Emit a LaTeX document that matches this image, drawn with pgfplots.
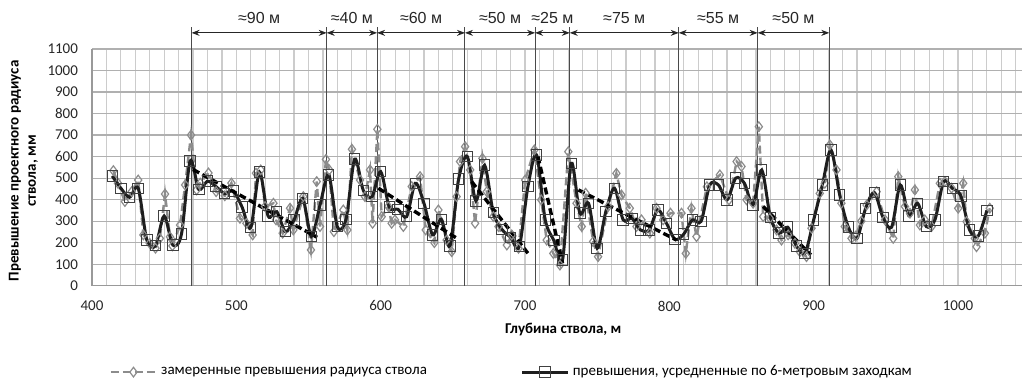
\documentclass[border=0pt]{standalone}
\usepackage{fontspec}
\setmainfont{Carlito}
\newfontfamily\arialf{Liberation Sans}
\usepackage{pgfplots}
\pgfplotsset{compat=1.18}
\usetikzlibrary{arrows.meta}
\definecolor{measgray}{HTML}{8C8C8C}
\definecolor{avgblack}{HTML}{1E1E1E}
\definecolor{gridv}{HTML}{CCCCCC}
\definecolor{gridh}{HTML}{B0B0B0}
\definecolor{bline}{HTML}{4A4A4A}
\begin{document}
\begin{tikzpicture}
\begin{axis}[
  scale only axis, width=464.75pt, height=118.35pt,
  xmin=400, xmax=1044, ymin=0, ymax=1100,
  xtick={400,500,...,1000}, minor xtick={410,420,...,1040},
  ytick={0,100,...,1100},
  xmajorgrids, xminorgrids, ymajorgrids,
  major x grid style={gridv, line width=0.6pt},
  minor x grid style={gridv, line width=0.6pt},
  major y grid style={gridh, line width=0.6pt},
  axis lines=left, axis line style={-, draw=gray!80, line width=0.6pt},
  major tick length=0pt, minor tick length=0pt,
  tick label style={font=\fontsize{7.5}{9}\selectfont, text=black!85},
  /pgf/number format/assume math mode=true,
  /pgf/number format/1000 sep={},
  xticklabel style={yshift=-4pt},
  yticklabel style={xshift=-3.5pt},
  xlabel={Глубина ствола, м},
  ylabel={Превышение проектного радиуса\\ствола, мм},
  xlabel style={at={(axis description cs:0.507,-0.183)}, anchor=center, font=\bfseries\fontsize{7.5}{9}\selectfont},
  ylabel style={at={(axis description cs:-0.0737,0.485)}, anchor=center, align=center, font=\bfseries\fontsize{7.5}{8.6}\selectfont},
  clip=false,
  legend columns=2,
  legend cell align=left,
  legend style={draw=none, fill=none, at={(axis description cs:0.4527,-0.365)}, anchor=center,
    font=\fontsize{7.5}{9}\selectfont, inner sep=0pt,
    /tikz/every even column/.append style={column sep=45pt}},
  legend image code/.code={\draw[mark repeat=2,mark phase=2,#1] plot coordinates {(0pt,0pt) (11.25pt,0pt) (22.5pt,0pt)};},
]
% boundary lines and arrows
\foreach \b in {469,562.6,597.5,658.4,707,731,806.5,861.2,910.8}{
  \edef\tmp{\noexpand\draw[bline, line width=0.5pt] (axis cs:\b,0) -- (axis cs:\b,1203);}\tmp
}
\foreach \a/\c/\t in {469/562.6/90,562.6/597.5/40,597.5/658.4/60,658.4/707/50,707/731/25,731/806.5/75,806.5/861.2/55,861.2/910.8/50}{
  \edef\tmp{\noexpand\draw[black!85, line width=0.5pt, {Stealth[length=4pt,width=3pt]}-{Stealth[length=4pt,width=3pt]}] (axis cs:\a,1175) -- (axis cs:\c,1175);}\tmp
  \pgfmathsetmacro{\m}{(\a+\c)/2}
  \edef\tmp{\noexpand\node[font=\noexpand\arialf\noexpand\fontsize{8}{9}\noexpand\selectfont, text=black!85] at (axis cs:\m,1242) {≈\t\noexpand\ м};}\tmp
}
% measured
\addplot[measgray, line width=1.2pt, dash pattern=on 4pt off 2pt,
  mark=diamond, mark size=2.4pt, mark options={solid, draw=measgray, fill=none, line width=0.6pt}]
coordinates {
(414.8,535) (418,476) (422.8,391) (427.5,437) (432,491) (435.6,236) (440,197) (444,174) (447,220) (450.6,426)
(454,227) (455.7,185) (461,282) (464.5,468) (468.6,700) (472.5,445) (475,477) (480.7,524) (486,437) (492,418)
(496.6,477) (502.5,313) (507,290) (511.3,236) (513.6,523) (516.9,538) (519.9,368) (525.7,383) (527.5,306) (532.1,244)
(537.2,360) (539.5,259) (546.4,414) (551.7,166) (555.7,484) (558,275) (562.1,587) (564.4,538) (567.6,251) (574.1,352)
(576.9,259) (580.1,634) (585.7,491) (589.1,414) (592.6,538) (594.4,290) (597.7,727) (600.7,321) (605.3,368) (607.6,290)
(609.9,306) (615.7,275) (621.5,461) (627.3,507) (631.2,259) (637.2,200) (640,352) (645.7,212) (649.2,158) (652.6,414)
(655,577) (658.5,646) (662,538) (665.4,290) (670.5,592) (673.5,437) (678.1,321) (681.6,275) (687.4,189) (690.8,236)
(695.5,174) (700.1,491) (706.5,631) (711.2,399) (715,212) (719.6,150) (724.2,96) (730,623) (735.7,383) (739.3,275)
(742,430) (747.2,205) (750.6,135) (757.6,368) (763.3,522) (766.8,422) (772.6,360) (777.2,275) (780.7,306) (786.5,244)
(791.1,360) (795.7,306) (800.8,337) (808.4,337) (811.4,150) (815.3,360) (818.8,228) (826,460) (835,515) (841.3,399)
(846.6,577) (850,554) (853.5,399) (858,383) (862,739) (865,321) (869.6,313) (874.3,259) (877.7,212) (882.3,236)
(887,197) (890.4,158) (895,135) (898.5,267) (904.2,429) (907.7,476) (911.2,654) (915.8,538) (919.2,383) (921.5,275)
(926.2,220) (929,230) (933,300) (936.7,375) (943.6,437) (949.4,306) (955.1,220) (958.6,507) (963.2,368) (966.7,337)
(970.1,445) (973.6,282) (977,306) (981.7,275) (987.4,476) (990.9,484) (995.5,453) (1000.1,360) (1003.6,476) (1005.9,298)
(1011.6,220) (1012.8,181) (1018.6,244) (1022,360)
};
\addlegendentry{замеренные превышения радиуса ствола}
% averaged
\addplot[avgblack, line width=1.5pt, smooth, tension=0.5,
  mark=square, mark size=2.6pt, mark options={draw=black!75, fill=none, line width=0.5pt}]
coordinates {
(414,510) (420,453) (426,411) (432,453) (438,212) (444,186) (450,324) (456,189) (462,240) (468,580)
(474,448) (480,486) (486,460) (492,428) (498,440) (504,365) (510,270) (516,528) (522,324) (528,344)
(534,251) (540,306) (546,406) (552,228) (558,375) (564,515) (570,274) (576,309) (582,588) (588,442)
(594,414) (600,530) (606,365) (612,355) (618,321) (624,476) (630,383) (636,236) (642,309) (648,185)
(654,495) (660,600) (666,394) (672,560) (678,340) (684,262) (690,225) (696,181) (702,460) (708,608)
(714,306) (720,210) (726,120) (732,569) (738,337) (744,383) (750,174) (756,345) (762,453) (768,306)
(774,313) (780,259) (786,259) (792,352) (798,290) (804,215) (810,240) (816,306) (822,299) (828,468)
(834,468) (840,399) (846,500) (852,476) (858,375) (864,538) (870,318) (876,244) (882,272) (888,185)
(894,151) (900,306) (906,468) (912,631) (918,422) (924,272) (930,220) (936,360) (942,433) (948,318)
(954,272) (960,468) (966,324) (972,383) (978,275) (984,306) (990,484) (996,453) (1002,417) (1008,259)
(1014,231) (1020,350)
};
\addlegendentry{превышения, усредненные по 6-метровым заходкам}
% trend lines
\addplot[black, line width=1.7pt, dash pattern=on 3.5pt off 1.8pt, forget plot] coordinates {(470,540) (556,225)};
\addplot[black, line width=1.7pt, dash pattern=on 3.5pt off 1.8pt, forget plot] coordinates {(598.4,453) (653.8,216)};
\addplot[black, line width=1.7pt, dash pattern=on 3.5pt off 1.8pt, forget plot] coordinates {(663,484) (702,151)};
\addplot[black, line width=1.7pt, dash pattern=on 3.5pt off 1.8pt, forget plot] coordinates {(709,600) (726,104)};
\addplot[black, line width=1.7pt, dash pattern=on 3.5pt off 1.8pt, forget plot] coordinates {(737,445) (805,212)};
\addplot[black, line width=1.7pt, dash pattern=on 3.5pt off 1.8pt, forget plot] coordinates {(865,368) (898,143)};
\coordinate (bbsw) at (axis cs:336.26,-433.6);
\coordinate (bbne) at (axis cs:1047.1,1327.7);
\end{axis}
\pgfresetboundingbox
\path[use as bounding box] (bbsw) rectangle (bbne);
\end{tikzpicture}
\end{document}
